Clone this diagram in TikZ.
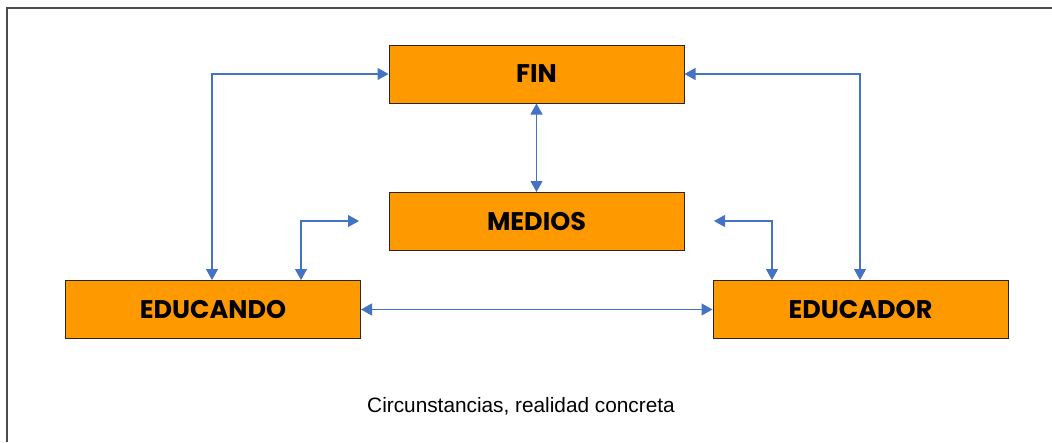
\documentclass[tikz,border=0pt]{standalone}
\usepackage{fontspec}
\setmainfont{Liberation Sans}
\newfontfamily\boxfont{Poppins}
\usetikzlibrary{arrows.meta}
\definecolor{boxorange}{HTML}{FF9900}
\definecolor{arrowblue}{HTML}{4472C4}
\tikzset{
  box/.style={draw=black!85, line width=1pt, fill=boxorange, minimum width=295pt, minimum height=58pt, inner sep=0pt, font=\boxfont\bfseries\fontsize{25.5}{30}\selectfont},
  conn/.style={draw=arrowblue, line width=1.1pt},
  tips/.style={{Triangle[length=11pt,width=12pt]}-{Triangle[length=11pt,width=12pt]}}
}
\begin{document}
\begin{tikzpicture}[x=1pt,y=-1pt]
\useasboundingbox (0,0) rectangle (1052,442);
\draw[black!70, line width=1.2pt] (7,442) -- (7,8) -- (1052,8);
\node[box] (fin) at (536.5,74) {FIN};
\node[box] (medios) at (536.5,221.5) {MEDIOS};
\node[box] (educando) at (213,309.5) {EDUCANDO};
\node[box] (educador) at (860.5,309.5) {EDUCADOR};
\node[font=\fontsize{20.8}{24}\selectfont] (circ) at (521,406) {Circunstancias, realidad concreta};
\coordinate (c1) at (212,74);
\coordinate (c2) at (860,74);
\coordinate (c3) at (301,221);
\coordinate (c4) at (772,221);
\coordinate (m1) at (359,221);
\coordinate (m2) at (714,221);
\draw[conn,tips] (fin.west) -- (c1) -- (c1 |- educando.north);
\draw[conn,tips] (fin.east) -- (c2) -- (c2 |- educador.north);
\draw[conn,tips] (fin.south) -- (medios.north);
\draw[conn,tips] (m1) -- (c3) -- (c3 |- educando.north);
\draw[conn,tips] (m2) -- (c4) -- (c4 |- educador.north);
\draw[conn,tips] (educando.east) -- (educador.west);
\end{tikzpicture}
\end{document}
